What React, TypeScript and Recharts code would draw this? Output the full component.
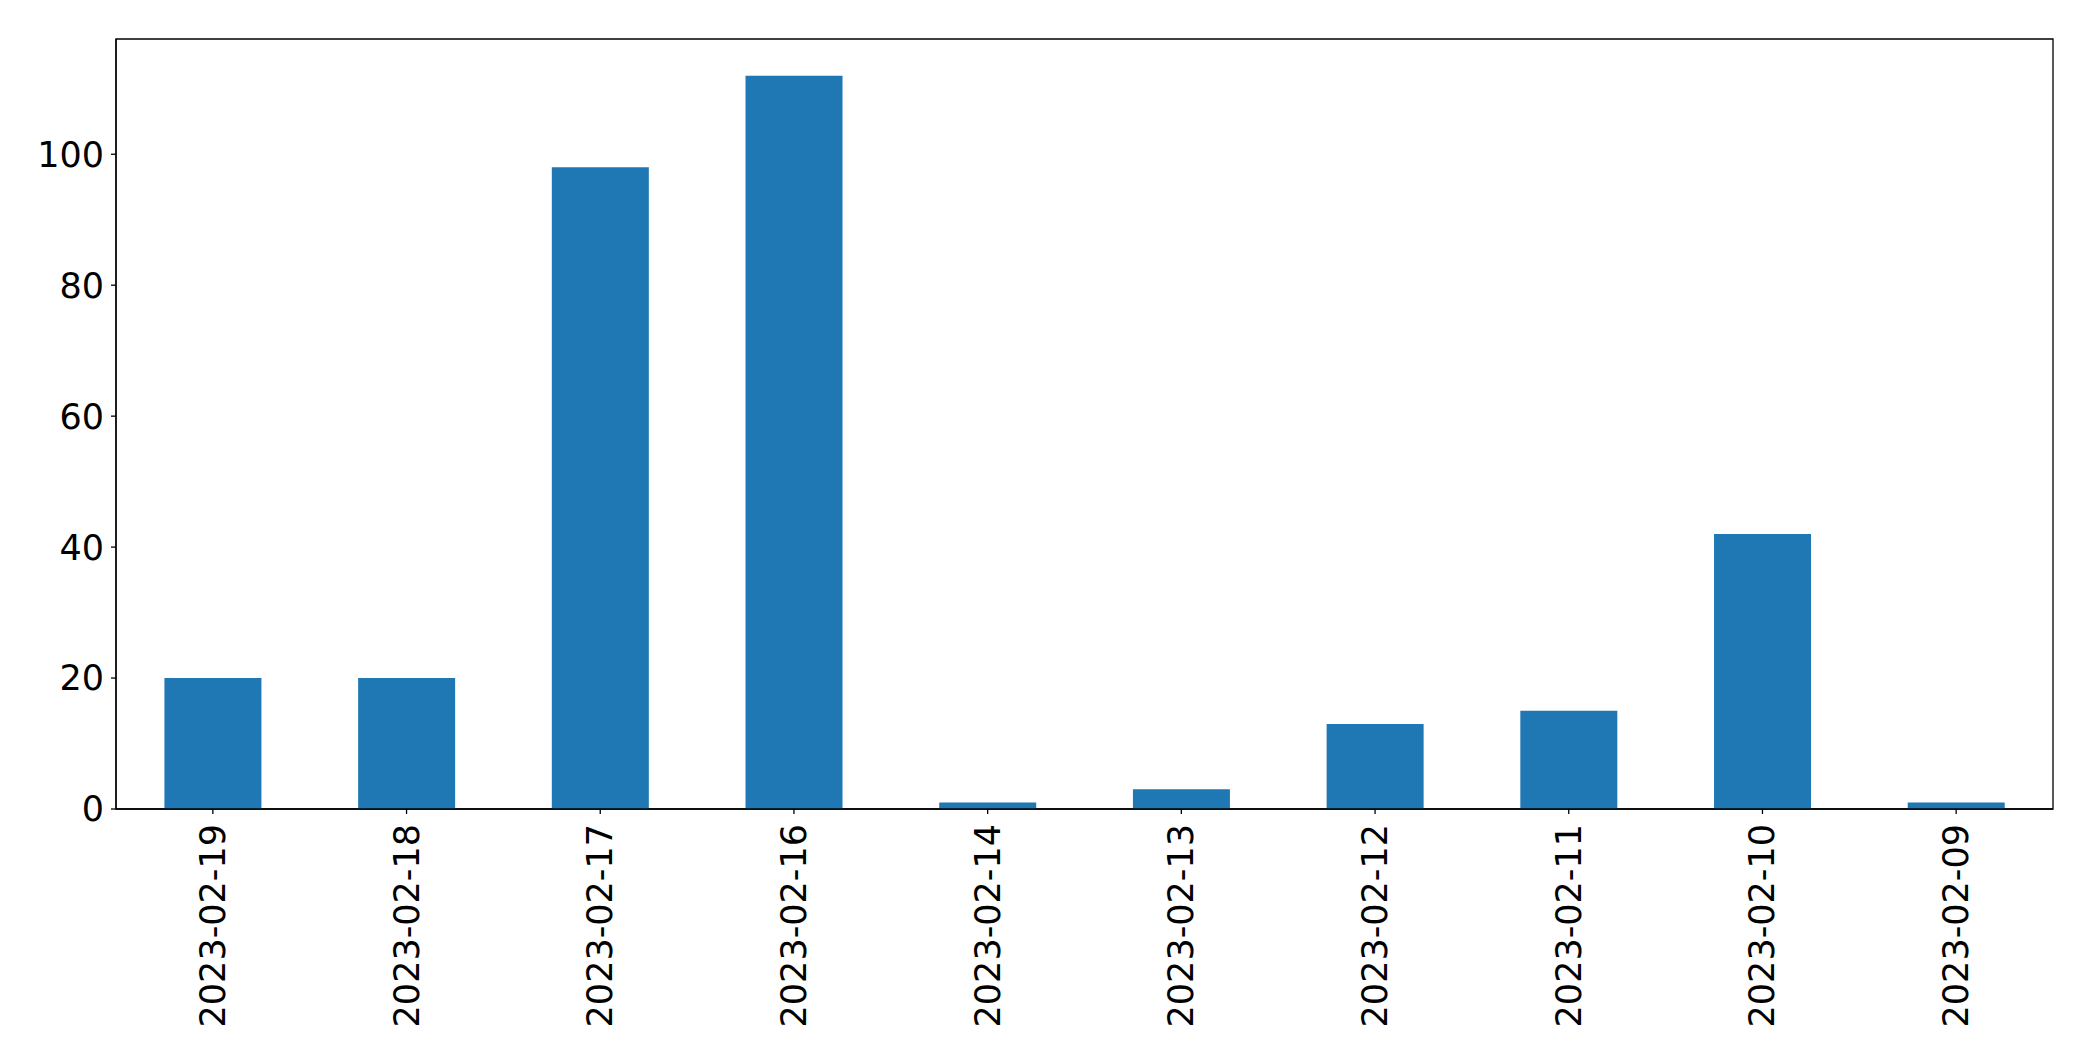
import { Bar, BarChart, ReferenceArea, XAxis, YAxis } from "recharts";

const dates = [
  "2023-02-19",
  "2023-02-18",
  "2023-02-17",
  "2023-02-16",
  "2023-02-14",
  "2023-02-13",
  "2023-02-12",
  "2023-02-11",
  "2023-02-10",
  "2023-02-09",
];

const counts = [20, 20, 98, 112, 1, 3, 13, 15, 42, 1];

const yTicks = [0, 20, 40, 60, 80, 100];

const data = dates.map((date, i) => ({ date, count: counts[i] }));

const FONT = "'DejaVu Sans', sans-serif";

function DateTick({ x, y, payload }: { x: number; y: number; payload: { value: string } }) {
  return (
    <text
      x={x}
      y={y}
      transform={`rotate(-90, ${x}, ${y})`}
      textAnchor="end"
      dominantBaseline="central"
      fill="#000"
      fontSize={35}
      fontFamily={FONT}
    >
      {payload.value}
    </text>
  );
}

export default function App() {
  return (
    <div style={{ position: "absolute", left: 0, top: 0, background: "#fff" }}>
      <BarChart
        width={2093}
        height={1061}
        data={data}
        margin={{ top: 39, right: 40, left: 0, bottom: 0 }}
        barCategoryGap="25%"
      >
        <XAxis
          dataKey="date"
          height={252}
          interval={0}
          tick={DateTick}
          tickSize={5}
          tickMargin={10}
          axisLine={{ stroke: "#000", strokeWidth: 1.3 }}
          tickLine={{ stroke: "#000", strokeWidth: 1.3 }}
        />
        <YAxis
          width={116}
          domain={[0, 117.6]}
          ticks={yTicks}
          tickSize={5}
          tickMargin={7}
          axisLine={{ stroke: "#000", strokeWidth: 1.3 }}
          tickLine={{ stroke: "#000", strokeWidth: 1.3 }}
          tick={{ fill: "#000", fontSize: 35, fontFamily: FONT }}
        />
        <Bar dataKey="count" fill="#1f77b4" isAnimationActive={false} />
        <ReferenceArea
          y1={0}
          y2={117.6}
          fill="none"
          stroke="#000"
          strokeWidth={1.3}
          ifOverflow="visible"
        />
      </BarChart>
    </div>
  );
}
